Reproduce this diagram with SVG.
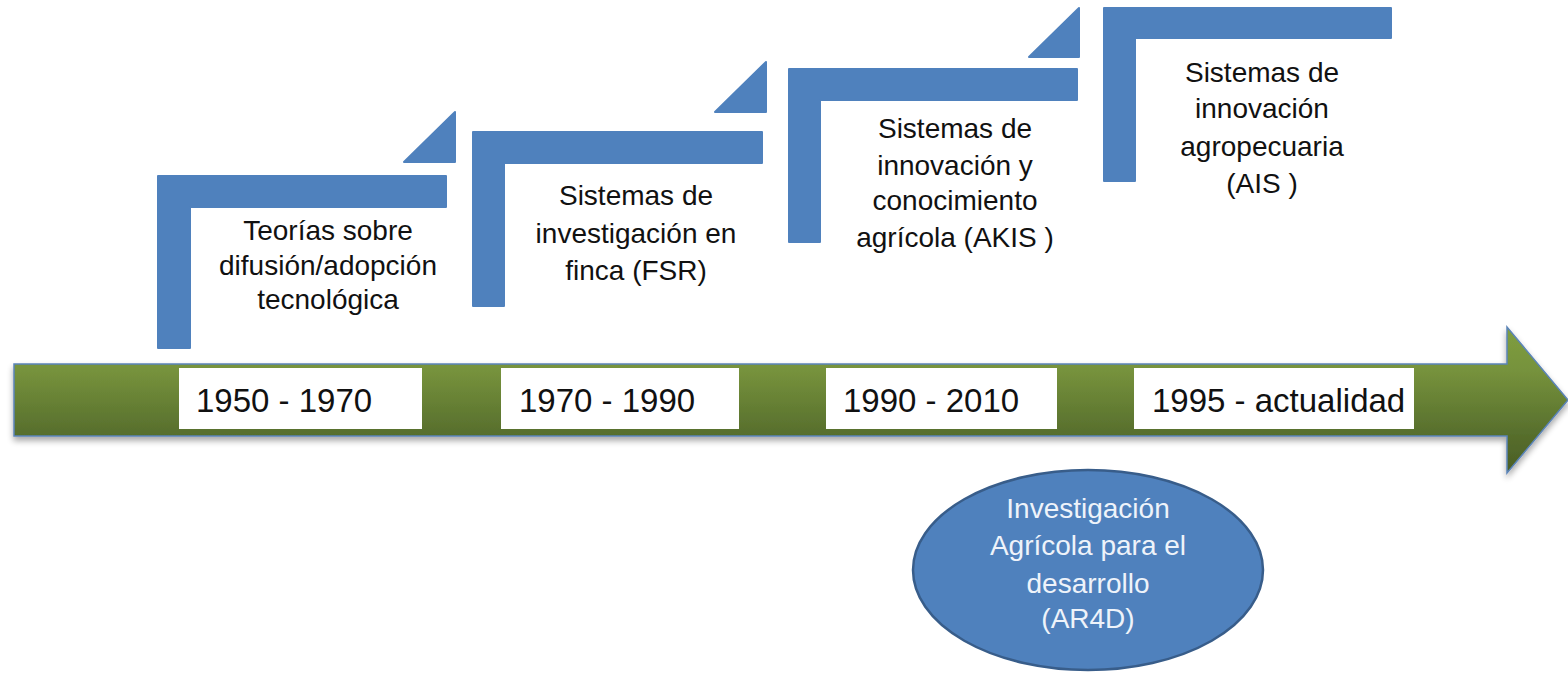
<svg xmlns="http://www.w3.org/2000/svg" width="1568" height="682" viewBox="0 0 1568 682">
  <defs>
    <linearGradient id="green" x1="0" y1="0" x2="0" y2="1">
      <stop offset="0" stop-color="#7f9e40"/>
      <stop offset="0.3" stop-color="#76923c"/>
      <stop offset="0.75" stop-color="#566d2c"/>
      <stop offset="1" stop-color="#4a5e25"/>
    </linearGradient>
    <filter id="shadow" x="-5%" y="-20%" width="110%" height="150%">
      <feGaussianBlur in="SourceAlpha" stdDeviation="3"/>
      <feOffset dx="0" dy="4" result="b"/>
      <feComponentTransfer><feFuncA type="linear" slope="0.35"/></feComponentTransfer>
      <feMerge><feMergeNode/><feMergeNode in="SourceGraphic"/></feMerge>
    </filter>
    <style>
      .step { fill: #4f81bd; stroke: #4f81bd; stroke-width: 2; stroke-linejoin: round; }
      .lbl { font-family: "Liberation Sans", Arial, sans-serif; font-size: 28px; fill: #111; text-anchor: middle; }
      .date { fill: #ffffff; }
      .dtxt { font-family: "Liberation Sans", Arial, sans-serif; font-size: 33px; fill: #111; }
      .ell { fill: #4f81bd; stroke: #385d8a; stroke-width: 2.5; }
      .etxt { font-family: "Liberation Sans", Arial, sans-serif; font-size: 28px; fill: #eef3fa; text-anchor: middle; }
    </style>
  </defs>
  <rect width="1568" height="682" fill="#ffffff"/>

  <g id="timeline">
    <path d="M14 364 L1507 364 L1507 327 L1568 400 L1507 473 L1507 436 L14 436 Z" fill="url(#green)" stroke="#5b84b8" stroke-width="1.5" filter="url(#shadow)"/>
  </g>

  <g id="step1">
    <path class="step" d="M158 176 L446 176 L446 207 L190 207 L190 348 L158 348 Z"/>
    <path class="step" d="M404 162 L455 112 L455 162 Z"/>
    <text class="lbl" x="328" y="240">Teorías sobre</text>
    <text class="lbl" x="328" y="275">difusión/adopción</text>
    <text class="lbl" x="328" y="309">tecnológica</text>
  </g>

  <g id="step2">
    <path class="step" d="M473 132 L762 132 L762 163 L504 163 L504 306 L473 306 Z"/>
    <path class="step" d="M715 112 L766 62 L766 112 Z"/>
    <text class="lbl" x="636" y="205">Sistemas de</text>
    <text class="lbl" x="636" y="243">investigación en</text>
    <text class="lbl" x="636" y="280">finca (FSR)</text>
  </g>

  <g id="step3">
    <path class="step" d="M789 69 L1077 69 L1077 100 L820 100 L820 242 L789 242 Z"/>
    <path class="step" d="M1029 57 L1079 8 L1079 57 Z"/>
    <text class="lbl" x="955" y="138">Sistemas de</text>
    <text class="lbl" x="955" y="175">innovación y</text>
    <text class="lbl" x="955" y="210">conocimiento</text>
    <text class="lbl" x="955" y="247">agrícola (AKIS )</text>
  </g>

  <g id="step4">
    <path class="step" d="M1104 8 L1391 8 L1391 38 L1135 38 L1135 181 L1104 181 Z"/>
    <text class="lbl" x="1262" y="82">Sistemas de</text>
    <text class="lbl" x="1262" y="118">innovación</text>
    <text class="lbl" x="1262" y="156">agropecuaria</text>
    <text class="lbl" x="1262" y="193">(AIS )</text>
  </g>

  <g id="date1">
    <rect class="date" x="179" y="368" width="243" height="61"/>
    <text class="dtxt" x="196" y="412">1950 - 1970</text>
  </g>
  <g id="date2">
    <rect class="date" x="501" y="368" width="238" height="61"/>
    <text class="dtxt" x="519" y="412">1970 - 1990</text>
  </g>
  <g id="date3">
    <rect class="date" x="826" y="368" width="231" height="61"/>
    <text class="dtxt" x="843" y="412">1990 - 2010</text>
  </g>
  <g id="date4">
    <rect class="date" x="1134" y="368" width="280" height="61"/>
    <text class="dtxt" x="1152" y="412">1995 - actualidad</text>
  </g>

  <g id="ar4d">
    <ellipse class="ell" cx="1088" cy="570" rx="175" ry="100"/>
    <text class="etxt" x="1088" y="518">Investigación</text>
    <text class="etxt" x="1088" y="555">Agrícola para el</text>
    <text class="etxt" x="1088" y="593">desarrollo</text>
    <text class="etxt" x="1088" y="628">(AR4D)</text>
  </g>

  <g id="connectors"></g>
</svg>
